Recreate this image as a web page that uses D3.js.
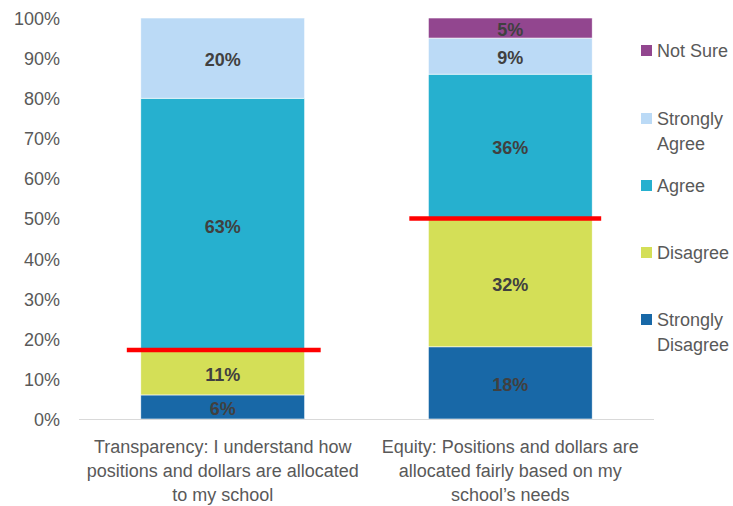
<!DOCTYPE html>
<html>
<head>
    <meta charset="utf-8">
    <style>
        html, body { margin: 0; background: #fff; }
        text { font-family: 'Liberation Sans', Arial, sans-serif; }
        .tick text { fill: #595959; font-size: 18px; }
        .seglabel { fill: #404040; font-size: 18px; font-weight: bold; }
        .catlabel { fill: #595959; font-size: 18px; }
        .legend text { fill: #595959; font-size: 18px; }
    </style>
</head>
<body>
    <svg id="chart" width="733" height="506"></svg>

    <script src="https://d3js.org/d3.v7.min.js"></script>

    <script>
        // data
        var categories = ["Transparency", "Equity"];
        var categoryLabels = [
            ["Transparency: I understand how", "positions and dollars are allocated", "to my school"],
            ["Equity: Positions and dollars are", "allocated fairly based on my", "school\u2019s needs"]
        ];
        var seriesNames = ["Strongly Disagree", "Disagree", "Agree", "Strongly Agree", "Not Sure"];
        var stronglyDisagree = [6, 18];
        var disagree = [11, 32];
        var agree = [63, 36];
        var stronglyAgree = [20, 9];
        var notSure = [0, 5];
        var redLineValues = [17.2, 50];
        var tickValues = [0, 10, 20, 30, 40, 50, 60, 70, 80, 90, 100];

        var colors = ["#1868a7", "#d4df57", "#26b0cf", "#bbdaf6", "#92468f"];
        var legendNames = [["Not Sure"], ["Strongly", "Agree"], ["Agree"], ["Disagree"], ["Strongly", "Disagree"]];
        var legendColors = ["#92468f", "#bbdaf6", "#26b0cf", "#d4df57", "#1868a7"];

        var svg = d3.select("#chart");
        var plotLeft = 79, plotRight = 654, plotTop = 18, plotBottom = 419;

        var x = d3.scaleBand().domain(categories).range([plotLeft, plotRight]).paddingInner(0.43).paddingOuter(0.215);
        var y = d3.scaleLinear().domain([0, 100]).range([plotBottom, plotTop]);

        var table = categories.map(function(c, i) {
            return {
                cat: c,
                "Strongly Disagree": stronglyDisagree[i],
                "Disagree": disagree[i],
                "Agree": agree[i],
                "Strongly Agree": stronglyAgree[i],
                "Not Sure": notSure[i]
            };
        });
        var stacked = d3.stack().keys(seriesNames)(table);

        // y axis
        var yAxis = svg.append("g")
            .attr("transform", "translate(" + plotLeft + ",0)")
            .call(d3.axisLeft(y).tickValues(tickValues).tickFormat(function(d) { return d + "%"; }).tickSize(0).tickPadding(19));
        yAxis.select(".domain").remove();
        yAxis.selectAll(".tick text").attr("dy", "0.36em");

        // bars
        stacked.forEach(function(layer, k) {
            var g = svg.append("g");
            g.selectAll("rect")
                .data(layer)
                .enter().append("rect")
                .attr("x", function(d) { return x(d.data.cat); })
                .attr("width", x.bandwidth())
                .attr("y", function(d) { return y(d[1]); })
                .attr("height", function(d) { return y(d[0]) - y(d[1]); })
                .attr("fill", colors[k])
                .attr("stroke", "#ffffff")
                .attr("stroke-width", 0.6);

            g.selectAll("text")
                .data(layer.filter(function(d) { return d[1] - d[0] > 0; }))
                .enter().append("text")
                .attr("class", "seglabel")
                .attr("text-anchor", "middle")
                .attr("x", function(d) { return x(d.data.cat) + x.bandwidth() / 2; })
                .attr("y", function(d) { return y((d[0] + d[1]) / 2); })
                .attr("dy", "0.45em")
                .text(function(d) { return (d[1] - d[0]) + "%"; });
        });

        // x axis line
        svg.append("line")
            .attr("x1", plotLeft).attr("x2", plotRight)
            .attr("y1", plotBottom + 0.5).attr("y2", plotBottom + 0.5)
            .attr("stroke", "#d9d9d9").attr("stroke-width", 1);

        // red marker lines
        var redOffsets = [[-14, 16], [-19, 9]];
        svg.append("g").selectAll("line")
            .data(redLineValues)
            .enter().append("line")
            .attr("x1", function(d, i) { return x(categories[i]) + redOffsets[i][0]; })
            .attr("x2", function(d, i) { return x(categories[i]) + x.bandwidth() + redOffsets[i][1]; })
            .attr("y1", function(d) { return y(d); })
            .attr("y2", function(d) { return y(d); })
            .attr("stroke", "#ff0000")
            .attr("stroke-width", 4.5);

        // category labels
        categories.forEach(function(c, i) {
            var t = svg.append("text")
                .attr("class", "catlabel")
                .attr("text-anchor", "middle");
            categoryLabels[i].forEach(function(line, j) {
                t.append("tspan")
                    .attr("x", x(c) + x.bandwidth() / 2)
                    .attr("y", 453 + j * 24)
                    .text(line);
            });
        });

        // legend
        var legendY = [50, 118, 185, 252, 319];
        var legend = svg.append("g").attr("class", "legend");
        legendNames.forEach(function(lines, i) {
            legend.append("rect")
                .attr("x", 641).attr("y", legendY[i] - 5)
                .attr("width", 11).attr("height", 11)
                .attr("fill", legendColors[i]);
            var t = legend.append("text");
            lines.forEach(function(line, j) {
                t.append("tspan")
                    .attr("x", 657)
                    .attr("y", legendY[i] + 7 + j * 25)
                    .text(line);
            });
        });
    </script>
</body>
</html>
